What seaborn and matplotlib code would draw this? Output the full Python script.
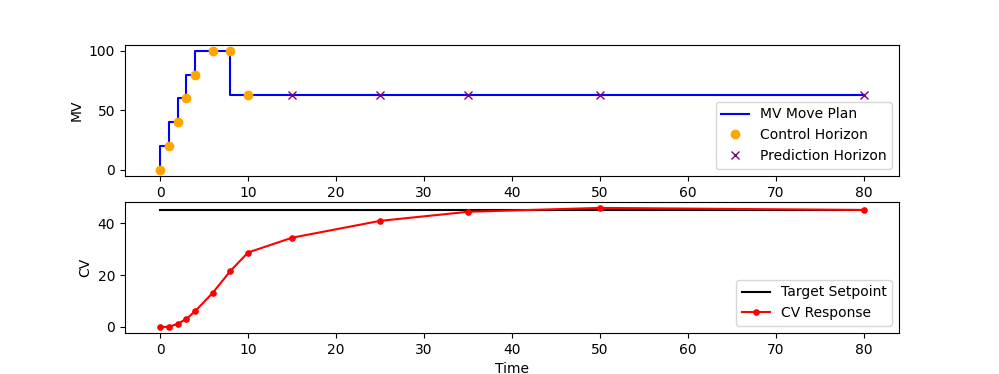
import pandas as pd
import matplotlib
matplotlib.use("Agg")
import matplotlib.pyplot as plt
import seaborn as sns

# move plan (step, held from previous time)
plan_time = [0, 1, 2, 3, 4, 6, 8, 10, 15, 25, 35, 50, 80]
plan_mv = [0, 20, 40, 60, 80, 100, 100, 63, 63, 63, 63, 63, 63]

# control horizon points
ctrl_time = [0, 1, 2, 3, 4, 6, 8, 10]
ctrl_mv = [0, 20, 40, 60, 80, 100, 100, 63]

# prediction horizon points
pred_time = [15, 25, 35, 50, 80]
pred_mv = [63, 63, 63, 63, 63]

# CV response
cv_time = [0, 1, 2, 3, 4, 6, 8, 10, 15, 25, 35, 50, 80]
cv_vals = [0, 0, 1.2, 3.1, 6.1, 13.2, 21.6, 28.7, 34.4, 40.9, 44.4, 45.9, 45.1]
setpoint = 45

fig, axes = plt.subplots(2, 1, figsize=(9.99, 3.74), dpi=100)

ax = axes[0]
sns.lineplot(x=plan_time, y=plan_mv, drawstyle='steps-pre', color='blue',
             label='MV Move Plan', ax=ax)
ax.plot(ctrl_time, ctrl_mv, 'o', color='orange', label='Control Horizon')
ax.plot(pred_time, pred_mv, 'x', color='purple', label='Prediction Horizon')
ax.set_ylabel('MV')
ax.legend(loc='lower right')

ax = axes[1]
sp = pd.DataFrame({'Time': [cv_time[0], cv_time[-1]], 'CV': [setpoint, setpoint]})
sns.lineplot(data=sp, x='Time', y='CV', color='black', label='Target Setpoint', ax=ax)
sns.lineplot(x=cv_time, y=cv_vals, color='red', marker='.', markersize=8,
             markeredgecolor='red', label='CV Response', ax=ax)
ax.set_xlabel('Time')
ax.set_ylabel('CV')
ax.legend(loc='lower right')

plt.savefig('out.png', dpi=100)
